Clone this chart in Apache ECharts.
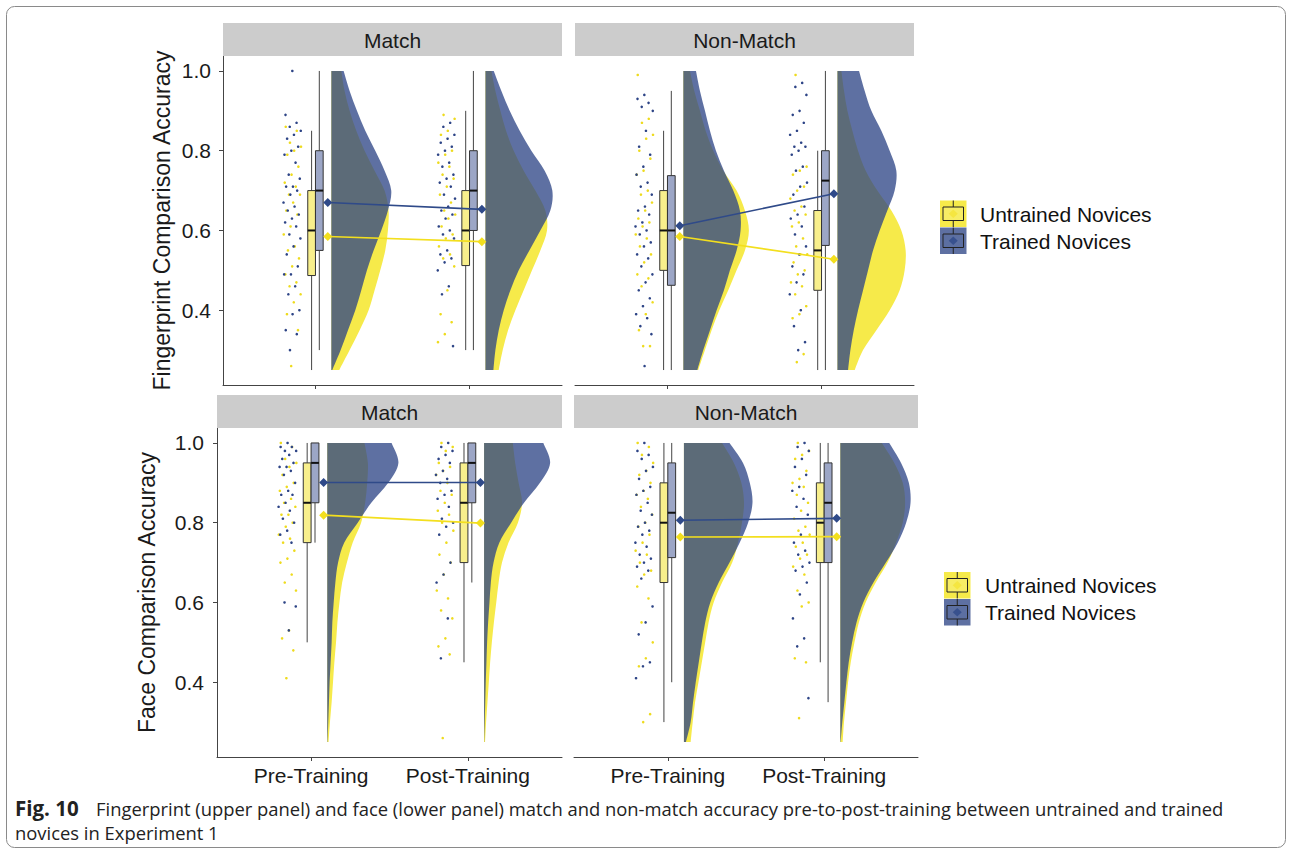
<!DOCTYPE html>
<html>
<head>
<meta charset="utf-8">
<script src="https://cdn.jsdelivr.net/npm/echarts@6/dist/echarts.min.js"></script>
<style>
  html, body { margin: 0; padding: 0; background: #ffffff; }
  #chart { width: 1292px; height: 854px; }
</style>
</head>
<body>
<div id="chart"></div>
<script>
// ---------- data ----------
const timepoints = ['Pre-Training', 'Post-Training'];
const groups = ['Untrained Novices', 'Trained Novices'];
const panelTitles = ['Match', 'Non-Match', 'Match', 'Non-Match'];
const yAxisTitles = ['Fingerprint Comparison Accuracy', 'Face Comparison Accuracy'];
const yTicks = [0.4, 0.6, 0.8, 1.0];
const captionLabel = 'Fig. 10';
const captionLines = [
  'Fingerprint (upper panel) and face (lower panel) match and non-match accuracy pre-to-post-training between untrained and trained',
  'novices in Experiment 1'
];

// boxplot statistics [min, q1, median, q3, max] for [pre, post]
const fpMatchBoxU = [[0.25, 0.487, 0.60, 0.70, 0.85], [0.30, 0.512, 0.60, 0.70, 0.90]];
const fpMatchBoxT = [[0.30, 0.55, 0.70, 0.80, 1.00], [0.30, 0.60, 0.70, 0.80, 1.00]];
const fpNonBoxU = [[0.25, 0.50, 0.60, 0.70, 0.85], [0.25, 0.45, 0.55, 0.65, 0.80]];
const fpNonBoxT = [[0.25, 0.4625, 0.60, 0.7375, 0.95], [0.25, 0.5625, 0.725, 0.80, 1.00]];
const fcMatchBoxU = [[0.50, 0.75, 0.85, 0.95, 1.00], [0.45, 0.70, 0.85, 0.95, 1.00]];
const fcMatchBoxT = [[0.75, 0.85, 0.95, 1.00, 1.00], [0.65, 0.85, 0.95, 1.00, 1.00]];
const fcNonBoxU = [[0.30, 0.65, 0.80, 0.90, 1.00], [0.45, 0.70, 0.80, 0.90, 1.00]];
const fcNonBoxT = [[0.40, 0.7125, 0.825, 0.95, 1.00], [0.35, 0.70, 0.85, 0.95, 1.00]];

// group means [pre, post]
const fpMatchMeanU = [0.585, 0.572];
const fpMatchMeanT = [0.670, 0.653];
const fpNonMeanU = [0.585, 0.528];
const fpNonMeanT = [0.612, 0.692];
const fcMatchMeanU = [0.819, 0.799];
const fcMatchMeanT = [0.901, 0.901];
const fcNonMeanU = [0.764, 0.765];
const fcNonMeanT = [0.806, 0.811];

// individual participant scores
const fpMatchPreU = [0.86, 0.85, 0.82, 0.81, 0.80, 0.79, 0.76, 0.74, 0.72, 0.71, 0.69, 0.69, 0.67, 0.65, 0.64, 0.61, 0.59, 0.56, 0.55, 0.53, 0.51, 0.49, 0.47, 0.46, 0.44, 0.42, 0.39, 0.35, 0.26];
const fpMatchPreT = [1.00, 0.89, 0.87, 0.86, 0.85, 0.84, 0.83, 0.81, 0.80, 0.79, 0.77, 0.74, 0.73, 0.71, 0.71, 0.70, 0.69, 0.67, 0.66, 0.65, 0.64, 0.63, 0.62, 0.61, 0.59, 0.58, 0.56, 0.54, 0.51, 0.49, 0.49, 0.46, 0.44, 0.40, 0.39, 0.35, 0.34, 0.30];
const fpMatchPostU = [0.89, 0.88, 0.85, 0.84, 0.80, 0.79, 0.77, 0.76, 0.74, 0.73, 0.71, 0.69, 0.67, 0.65, 0.64, 0.63, 0.61, 0.59, 0.58, 0.56, 0.54, 0.53, 0.51, 0.45, 0.39, 0.37, 0.34, 0.32];
const fpMatchPostT = [0.87, 0.86, 0.84, 0.83, 0.82, 0.81, 0.80, 0.79, 0.77, 0.76, 0.74, 0.73, 0.72, 0.71, 0.69, 0.68, 0.66, 0.65, 0.64, 0.63, 0.61, 0.60, 0.59, 0.58, 0.55, 0.54, 0.53, 0.52, 0.50, 0.46, 0.44, 0.31];
const fpNonPreU = [0.99, 0.88, 0.87, 0.84, 0.83, 0.80, 0.78, 0.75, 0.74, 0.70, 0.69, 0.67, 0.65, 0.63, 0.62, 0.61, 0.59, 0.58, 0.56, 0.54, 0.52, 0.49, 0.48, 0.46, 0.42, 0.39, 0.35, 0.31, 0.31];
const fpNonPreT = [0.94, 0.93, 0.92, 0.91, 0.90, 0.85, 0.81, 0.79, 0.76, 0.74, 0.72, 0.71, 0.69, 0.66, 0.65, 0.64, 0.62, 0.61, 0.60, 0.59, 0.57, 0.56, 0.54, 0.53, 0.51, 0.49, 0.47, 0.45, 0.43, 0.41, 0.39, 0.38, 0.36, 0.34, 0.26];
const fpNonPostU = [0.99, 0.76, 0.75, 0.74, 0.71, 0.70, 0.68, 0.66, 0.65, 0.64, 0.62, 0.61, 0.58, 0.56, 0.54, 0.54, 0.52, 0.50, 0.49, 0.47, 0.46, 0.44, 0.41, 0.39, 0.38, 0.29, 0.27];
const fpNonPostT = [0.97, 0.96, 0.94, 0.90, 0.89, 0.87, 0.85, 0.84, 0.82, 0.81, 0.81, 0.80, 0.79, 0.76, 0.75, 0.72, 0.71, 0.69, 0.66, 0.64, 0.63, 0.61, 0.59, 0.56, 0.54, 0.51, 0.49, 0.47, 0.44, 0.40, 0.36, 0.32, 0.30];
const fcMatchPreU = [1.00, 0.99, 0.96, 0.95, 0.94, 0.92, 0.90, 0.89, 0.88, 0.86, 0.85, 0.84, 0.82, 0.82, 0.80, 0.79, 0.77, 0.76, 0.75, 0.73, 0.71, 0.70, 0.67, 0.65, 0.63, 0.53, 0.51, 0.48, 0.41];
const fcMatchPreT = [1.00, 0.99, 0.99, 0.98, 0.98, 0.97, 0.96, 0.95, 0.94, 0.94, 0.93, 0.92, 0.90, 0.88, 0.87, 0.87, 0.85, 0.84, 0.83, 0.81, 0.80, 0.78, 0.77, 0.75, 0.60, 0.59, 0.53];
const fcMatchPostU = [1.00, 0.99, 0.98, 0.95, 0.94, 0.93, 0.92, 0.90, 0.88, 0.87, 0.85, 0.83, 0.82, 0.80, 0.78, 0.75, 0.72, 0.70, 0.67, 0.63, 0.61, 0.58, 0.56, 0.51, 0.49, 0.47, 0.26];
const fcMatchPostT = [1.00, 0.99, 0.98, 0.97, 0.96, 0.95, 0.93, 0.92, 0.91, 0.90, 0.88, 0.87, 0.86, 0.84, 0.81, 0.80, 0.79, 0.77, 0.70, 0.67, 0.65, 0.56, 0.46];
const fcNonPreU = [1.00, 0.99, 0.97, 0.95, 0.93, 0.92, 0.90, 0.88, 0.87, 0.86, 0.84, 0.82, 0.80, 0.79, 0.77, 0.75, 0.73, 0.72, 0.70, 0.68, 0.67, 0.64, 0.61, 0.55, 0.50, 0.46, 0.44, 0.32, 0.30];
const fcNonPreT = [1.00, 0.98, 0.97, 0.96, 0.94, 0.93, 0.91, 0.89, 0.88, 0.87, 0.85, 0.83, 0.82, 0.80, 0.79, 0.78, 0.77, 0.75, 0.74, 0.72, 0.71, 0.70, 0.69, 0.68, 0.66, 0.59, 0.55, 0.52, 0.45, 0.44, 0.41];
const fcNonPostU = [1.00, 0.98, 0.97, 0.96, 0.93, 0.91, 0.90, 0.89, 0.87, 0.85, 0.83, 0.81, 0.79, 0.78, 0.77, 0.75, 0.74, 0.72, 0.71, 0.69, 0.67, 0.63, 0.60, 0.59, 0.46, 0.45, 0.31];
const fcNonPostT = [1.00, 0.99, 0.98, 0.96, 0.94, 0.92, 0.89, 0.88, 0.86, 0.84, 0.82, 0.77, 0.75, 0.73, 0.72, 0.70, 0.69, 0.68, 0.65, 0.62, 0.56, 0.51, 0.49, 0.36];

// kernel density (scaled) evaluated at these accuracy levels
const densityLevels = [0.25, 0.30, 0.35, 0.40, 0.45, 0.50, 0.55, 0.60, 0.65, 0.70, 0.75, 0.80, 0.85, 0.90, 0.95, 1.00];
const fpMatchDensPreU = [2.4, 5.5, 8.5, 11.2, 13.0, 14.7, 16.2, 17.0, 17.2, 16.0, 13.0, 10.0, 7.5, 5.5, 4.0, 3.0];
const fpMatchDensPreT = [0.3, 2.8, 5.0, 7.2, 9.0, 10.7, 12.7, 15.0, 17.0, 18.0, 16.0, 13.2, 10.2, 7.7, 5.5, 3.7];
const fpMatchDensPostU = [4.0, 5.2, 6.8, 9.0, 11.5, 14.0, 16.5, 18.5, 18.0, 15.0, 11.5, 8.5, 6.2, 4.5, 3.0, 1.8];
const fpMatchDensPostT = [2.4, 3.0, 4.0, 5.5, 7.5, 10.0, 13.2, 16.5, 19.5, 20.1, 17.8, 13.8, 10.3, 7.3, 4.8, 2.5];
const fpNonDensPreU = [4.5, 6.5, 8.5, 10.8, 13.5, 16.0, 18.5, 19.7, 18.5, 16.0, 12.0, 9.0, 6.7, 5.0, 3.3, 2.0];
const fpNonDensPreT = [4.2, 6.0, 8.0, 10.0, 12.2, 14.0, 16.0, 17.2, 17.0, 15.0, 12.2, 9.8, 8.0, 6.5, 5.0, 3.8];
const fpNonDensPostU = [5.2, 7.7, 11.7, 15.7, 18.7, 20.2, 20.5, 19.2, 16.2, 12.0, 8.5, 6.2, 4.5, 3.0, 2.0, 1.2];
const fpNonDensPostT = [3.2, 3.9, 4.9, 6.2, 7.7, 9.2, 10.7, 12.7, 15.0, 17.2, 17.7, 15.7, 13.2, 10.2, 8.2, 6.5];
const fcMatchDensPreU = [0.4, 0.8, 1.3, 1.7, 2.1, 2.6, 3.0, 3.6, 4.4, 5.8, 7.5, 10.0, 11.2, 11.8, 12.0, 11.0];
const fcMatchDensPreT = [0.1, 0.3, 0.5, 0.7, 1.0, 1.3, 1.5, 1.9, 2.4, 3.2, 5.0, 9.0, 13.0, 18.0, 21.0, 19.0];
const fcMatchDensPostU = [0.3, 0.6, 1.0, 1.4, 1.8, 2.3, 2.9, 3.6, 4.3, 5.3, 7.2, 10.0, 11.2, 10.2, 9.2, 8.5];
const fcMatchDensPostT = [0.05, 0.2, 0.35, 0.5, 0.7, 0.9, 1.2, 1.6, 2.0, 2.8, 4.5, 8.0, 11.8, 16.5, 19.5, 17.5];
const fcNonDensPreU = [2.0, 2.6, 3.3, 4.3, 5.3, 6.3, 7.3, 8.8, 11.3, 14.3, 16.0, 17.2, 17.8, 17.0, 14.8, 11.3];
const fcNonDensPreT = [0.6, 2.0, 2.7, 3.5, 4.4, 5.3, 6.3, 7.8, 10.3, 13.5, 16.5, 19.0, 20.3, 19.5, 17.5, 13.5];
const fcNonDensPostU = [0.7, 1.1, 1.7, 2.3, 3.1, 4.2, 5.5, 7.5, 10.5, 14.0, 16.5, 18.5, 19.2, 18.5, 16.0, 12.3];
const fcNonDensPostT = [0.1, 0.6, 1.2, 1.8, 2.5, 3.5, 4.8, 6.8, 9.8, 13.5, 17.0, 19.5, 20.8, 20.3, 18.0, 14.5];

// ---------- panel assembly ----------
const panels = [
  { box: { U: fpMatchBoxU, T: fpMatchBoxT }, mean: { U: fpMatchMeanU, T: fpMatchMeanT },
    scores: { U: [fpMatchPreU, fpMatchPostU], T: [fpMatchPreT, fpMatchPostT] },
    dens: { U: [fpMatchDensPreU, fpMatchDensPostU], T: [fpMatchDensPreT, fpMatchDensPostT] } },
  { box: { U: fpNonBoxU, T: fpNonBoxT }, mean: { U: fpNonMeanU, T: fpNonMeanT },
    scores: { U: [fpNonPreU, fpNonPostU], T: [fpNonPreT, fpNonPostT] },
    dens: { U: [fpNonDensPreU, fpNonDensPostU], T: [fpNonDensPreT, fpNonDensPostT] } },
  { box: { U: fcMatchBoxU, T: fcMatchBoxT }, mean: { U: fcMatchMeanU, T: fcMatchMeanT },
    scores: { U: [fcMatchPreU, fcMatchPostU], T: [fcMatchPreT, fcMatchPostT] },
    dens: { U: [fcMatchDensPreU, fcMatchDensPostU], T: [fcMatchDensPreT, fcMatchDensPostT] } },
  { box: { U: fcNonBoxU, T: fcNonBoxT }, mean: { U: fcNonMeanU, T: fcNonMeanT },
    scores: { U: [fcNonPreU, fcNonPostU], T: [fcNonPreT, fcNonPostT] },
    dens: { U: [fcNonDensPreU, fcNonDensPostU], T: [fcNonDensPreT, fcNonDensPostT] } }
];

// ---------- layout & style ----------
const FONT = "'Liberation Sans', Arial, Helvetica, sans-serif";
const CAPTION_FONT = "'Open Sans', 'Noto Sans', sans-serif";
const GRID = [
  { left: 223, top: 56, width: 339, height: 329 },
  { left: 575, top: 56, width: 339, height: 329 },
  { left: 217, top: 428, width: 345, height: 329 },
  { left: 574, top: 428, width: 344, height: 329 }
];
const STRIP_H = 33;
const Y_MIN = 0.2125, Y_MAX = 1.0375;
const X_MIN = 0.4, X_MAX = 2.6;
const BOX_W = 0.05;
const JIT_CENTER = -0.15, JIT_HALF = 0.058;
const MEAN_DX = 0.08;
const VIOLIN_DX = 0.103;
const DENS_SCALE = 0.0216;

const COLORS = {
  U: { point: '#EEDB1E', line: '#F3DF1E', violin: 'rgb(246,234,74)', box: '#F8EF8C' },
  T: { point: '#2D4486', line: '#2F4A89', violin: 'rgba(46,69,134,0.77)', box: '#9CA6C6' }
};
const AXIS_COLOR = '#444444';
const TEXT_COLOR = '#1a1a1a';

// deterministic horizontal spread for the raw scores
function spread(i, seed) {
  const f = (i * 0.6180339887 + seed) % 1;
  return JIT_CENTER + JIT_HALF * (2 * f - 1);
}

// smooth outline through points (Catmull-Rom converted to cubic Bezier)
function smoothPath(pts) {
  let d = '';
  for (let i = 0; i < pts.length - 1; i++) {
    const p0 = pts[Math.max(i - 1, 0)], p1 = pts[i], p2 = pts[i + 1], p3 = pts[Math.min(i + 2, pts.length - 1)];
    const c1 = [p1[0] + (p2[0] - p0[0]) / 6, p1[1] + (p2[1] - p0[1]) / 6];
    const c2 = [p2[0] - (p3[0] - p1[0]) / 6, p2[1] - (p3[1] - p1[1]) / 6];
    d += ' C' + c1[0].toFixed(2) + ',' + c1[1].toFixed(2) + ' ' + c2[0].toFixed(2) + ',' + c2[1].toFixed(2) + ' ' + p2[0].toFixed(2) + ',' + p2[1].toFixed(2);
  }
  return d;
}

const series = [];
panels.forEach((panel, pi) => {
  ['U', 'T'].forEach((g, gi) => {
    // raw scores
    const pts = [];
    panel.scores[g].forEach((arr, t) => {
      arr.forEach((v, i) => pts.push([t + 1 + spread(i, 0.13 + gi * 0.37 + t * 0.21), v]));
    });
    series.push({
      type: 'scatter', name: groups[gi], xAxisIndex: pi, yAxisIndex: pi, z: 2, silent: true,
      symbol: 'circle', symbolSize: 2.6, itemStyle: { color: COLORS[g].point, opacity: 1 },
      data: pts
    });
  });

  // boxplots
  const boxes = [];
  ['U', 'T'].forEach(g => [0, 1].forEach(t => boxes.push({ g, t, s: panel.box[g][t] })));
  series.push({
    type: 'custom', xAxisIndex: pi, yAxisIndex: pi, z: 3, silent: true,
    encode: { x: 0, y: [1, 2, 3, 4, 5] },
    data: boxes.map(b => [b.t + 1].concat(b.s)),
    renderItem(params, api) {
      const b = boxes[params.dataIndex];
      const s = b.s;
      const cx = b.t + 1 + (b.g === 'U' ? -BOX_W / 2 : BOX_W / 2);
      const xl = api.coord([cx - BOX_W / 2, s[3]])[0];
      const xr = api.coord([cx + BOX_W / 2, s[3]])[0];
      const xc = api.coord([cx, s[3]])[0];
      const y = v => api.coord([cx, v])[1];
      const yMin = y(s[0]), yQ1 = y(s[1]), yMed = y(s[2]), yQ3 = y(s[3]), yMax = y(s[4]);
      return {
        type: 'group', children: [
          { type: 'line', shape: { x1: xc, y1: yMax, x2: xc, y2: yQ3 }, style: { stroke: AXIS_COLOR, lineWidth: 1 } },
          { type: 'line', shape: { x1: xc, y1: yQ1, x2: xc, y2: yMin }, style: { stroke: AXIS_COLOR, lineWidth: 1 } },
          { type: 'rect', shape: { x: xl, y: yQ3, width: xr - xl, height: yQ1 - yQ3 },
            style: { fill: COLORS[b.g].box, stroke: '#333333', lineWidth: 1 } },
          { type: 'line', shape: { x1: xl, y1: yMed, x2: xr, y2: yMed }, style: { stroke: '#111111', lineWidth: 2 } }
        ]
      };
    }
  });

  // half violins
  ['U', 'T'].forEach(g => {
    series.push({
      type: 'custom', xAxisIndex: pi, yAxisIndex: pi, z: g === 'U' ? 4 : 5, silent: true,
      encode: { x: 0, y: 1 },
      data: [[1, densityLevels[0]], [2, densityLevels[0]]],
      renderItem(params, api) {
        const t = params.dataIndex;
        const dens = panel.dens[g][t];
        const x0 = t + 1 + VIOLIN_DX;
        const edge = densityLevels.map((lv, i) => api.coord([x0 + dens[i] * DENS_SCALE, lv]));
        const base0 = api.coord([x0, densityLevels[0]]);
        const base1 = api.coord([x0, densityLevels[densityLevels.length - 1]]);
        const d = 'M' + base0[0] + ',' + base0[1] + ' L' + edge[0][0] + ',' + edge[0][1] +
          smoothPath(edge) + ' L' + base1[0] + ',' + base1[1] + ' Z';
        return { type: 'path', shape: { pathData: d }, style: { fill: COLORS[g].violin, stroke: 'none' } };
      }
    });
  });

  // mean trajectories
  ['U', 'T'].forEach((g, gi) => {
    series.push({
      type: 'line', name: groups[gi], xAxisIndex: pi, yAxisIndex: pi, z: 6, silent: true,
      symbol: 'diamond', symbolSize: 9, showSymbol: true,
      lineStyle: { color: COLORS[g].line, width: 1.6 },
      itemStyle: { color: COLORS[g].line },
      data: panel.mean[g].map((m, t) => [t + 1 + MEAN_DX, m])
    });
  });
});

// ---------- decorations ----------
const graphics = [];
// figure frame
graphics.push({ type: 'rect', shape: { x: 6.5, y: 6.5, width: 1279, height: 841, r: 8 },
  style: { fill: 'none', stroke: '#8a8a8a', lineWidth: 1 }, z: 0 });
// facet strips
GRID.forEach((g, i) => {
  graphics.push({ type: 'rect', shape: { x: g.left, y: g.top - STRIP_H, width: g.width, height: STRIP_H },
    style: { fill: '#CCCCCC' }, z: 1 });
  graphics.push({ type: 'text', x: g.left + g.width / 2, y: g.top - STRIP_H / 2 + 1,
    style: { text: panelTitles[i], font: '21px ' + FONT, fill: TEXT_COLOR, align: 'center', verticalAlign: 'middle' }, z: 2 });
});
// y-axis titles
graphics.push({ type: 'text', x: 162, y: GRID[0].top + GRID[0].height / 2, rotation: Math.PI / 2,
  style: { text: yAxisTitles[0], font: '23px ' + FONT, fill: TEXT_COLOR, align: 'center', verticalAlign: 'middle' } });
graphics.push({ type: 'text', x: 147, y: GRID[2].top + GRID[2].height / 2, rotation: Math.PI / 2,
  style: { text: yAxisTitles[1], font: '23px ' + FONT, fill: TEXT_COLOR, align: 'center', verticalAlign: 'middle' } });

// legends (boxplot-style keys)
function legendBlock(x, y, textX) {
  const K = 26.5;
  ['U', 'T'].forEach((g, gi) => {
    const ky = y + gi * (K + 0.5);
    const cx = x + K / 2;
    graphics.push({ type: 'rect', shape: { x: x, y: ky, width: K, height: K }, style: { fill: COLORS[g].violin } });
    graphics.push({ type: 'line', shape: { x1: cx, y1: ky, x2: cx, y2: ky + 6.5 }, style: { stroke: '#222', lineWidth: 1 } });
    graphics.push({ type: 'line', shape: { x1: cx, y1: ky + 20, x2: cx, y2: ky + K }, style: { stroke: '#222', lineWidth: 1 } });
    graphics.push({ type: 'rect', shape: { x: x + 3, y: ky + 6.5, width: K - 6, height: 13.5 },
      style: { fill: gi === 0 ? 'rgba(248,239,120,0.6)' : 'rgba(90,110,160,0.5)', stroke: '#222', lineWidth: 1 } });
    graphics.push({ type: 'polygon', shape: { points: [[cx, ky + 9], [cx + 4.5, ky + 13.25], [cx, ky + 17.5], [cx - 4.5, ky + 13.25]] },
      style: { fill: COLORS[g].line, opacity: gi === 0 ? 0.5 : 0.8 } });
    graphics.push({ type: 'text', x: textX, y: ky + K / 2 + 0.5,
      style: { text: groups[gi], font: '21px ' + FONT, fill: '#111', align: 'left', verticalAlign: 'middle' } });
  });
}
legendBlock(940, 200.5, 980);
legendBlock(944, 572, 985);

// caption
graphics.push({ type: 'text', x: 15, y: 808,
  style: { text: captionLabel, font: 'bold 20.5px ' + CAPTION_FONT, fill: '#222', align: 'left', verticalAlign: 'middle' } });
graphics.push({ type: 'text', x: 96, y: 808,
  style: { text: captionLines[0], font: '18.4px ' + CAPTION_FONT, fill: '#222', align: 'left', verticalAlign: 'middle' } });
graphics.push({ type: 'text', x: 15, y: 832.5,
  style: { text: captionLines[1], font: '18.4px ' + CAPTION_FONT, fill: '#222', align: 'left', verticalAlign: 'middle' } });

// ---------- axes ----------
const xAxes = GRID.map((g, i) => ({
  type: 'value', gridIndex: i, min: X_MIN, max: X_MAX,
  axisLine: { show: true, onZero: false, lineStyle: { color: AXIS_COLOR, width: 1 } },
  axisTick: { show: true, length: 4, customValues: [1, 2], lineStyle: { color: AXIS_COLOR } },
  axisLabel: { show: i >= 2, customValues: [1, 2], formatter: v => timepoints[Math.round(v) - 1],
    fontSize: 21, fontFamily: FONT, color: TEXT_COLOR, margin: 8 },
  splitLine: { show: false }
}));
const yAxes = GRID.map((g, i) => ({
  type: 'value', gridIndex: i, min: Y_MIN, max: Y_MAX,
  axisLine: { show: i % 2 === 0, onZero: false, lineStyle: { color: AXIS_COLOR, width: 1 } },
  axisTick: { show: i % 2 === 0, length: 4, customValues: yTicks, lineStyle: { color: AXIS_COLOR } },
  axisLabel: { show: i % 2 === 0, customValues: yTicks, formatter: v => v.toFixed(1),
    fontSize: 21, fontFamily: FONT, color: TEXT_COLOR, margin: i < 2 ? 12 : 13 },
  splitLine: { show: false }
}));

const chart = echarts.init(document.getElementById('chart'), null, { renderer: 'svg' });
chart.setOption({
  animation: false,
  backgroundColor: '#ffffff',
  textStyle: { fontFamily: FONT },
  grid: GRID.map(g => Object.assign({ containLabel: false }, g)),
  xAxis: xAxes,
  yAxis: yAxes,
  series: series,
  graphic: { elements: graphics }
});
</script>
</body>
</html>
